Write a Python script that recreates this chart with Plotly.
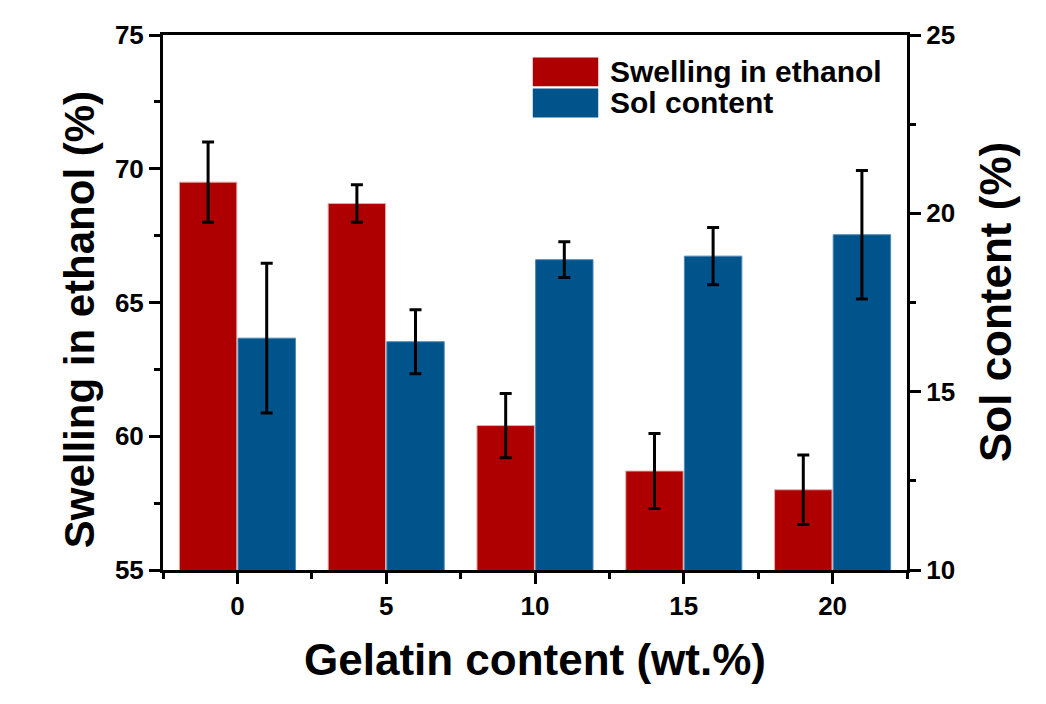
import plotly.graph_objects as go

# Gelatin content (wt.%)
gelatin = [0, 5, 10, 15, 20]

# Swelling in ethanol (%) with standard deviation
swelling = [69.5, 68.7, 60.4, 58.7, 58.0]
swelling_err = [1.5, 0.7, 1.2, 1.4, 1.3]

# Sol content (%) with standard deviation
sol = [16.5, 16.4, 18.7, 18.8, 19.4]
sol_err = [2.1, 0.9, 0.5, 0.8, 1.8]

RED = "#AF0000"
BLUE = "#00548C"
FONT = "Liberation Sans"
BAR_W = 1.93

err_style = dict(type="data", visible=True, color="black", thickness=3, width=6)

fig = go.Figure()
fig.add_trace(go.Bar(
    x=gelatin, y=swelling, name="Swelling in ethanol",
    width=BAR_W, offset=-1.95,
    marker=dict(color=RED, line=dict(color="#E4A9A9", width=1)),
    error_y=dict(array=swelling_err, **err_style),
    yaxis="y", showlegend=False,
))
fig.add_trace(go.Bar(
    x=gelatin, y=sol, name="Sol content",
    width=BAR_W, offset=0.02,
    marker=dict(color=BLUE, line=dict(color="#4F86B0", width=1)),
    error_y=dict(array=sol_err, **err_style),
    yaxis="y2", showlegend=False,
))

tick_font = dict(family=FONT, size=26, color="black", weight="bold")
axis_common = dict(
    showline=True, linecolor="black", linewidth=3,
    ticks="outside", ticklen=11, tickwidth=3, tickcolor="black",
    showgrid=False, zeroline=False, tickfont=tick_font,
)

fig.update_layout(
    width=1046, height=704,
    margin=dict(l=163, r=139, t=35, b=134),
    paper_bgcolor="white", plot_bgcolor="white",
    barmode="overlay",
    xaxis=dict(
        range=[-2.5, 22.5], tickmode="array", tickvals=gelatin,
        ticktext=[str(v) for v in gelatin], mirror=True,
        minor=dict(ticks="outside", dtick=2.5, tick0=0, ticklen=6,
                   tickwidth=3, tickcolor="black"),
        **axis_common,
    ),
    yaxis=dict(
        range=[55, 75], tick0=55, dtick=5,
        minor=dict(ticks="outside", dtick=2.5, tick0=55, ticklen=6,
                   tickwidth=3, tickcolor="black"),
        **axis_common,
    ),
    yaxis2=dict(
        range=[10, 25], tick0=10, dtick=5, overlaying="y", side="right",
        minor=dict(ticks="outside", dtick=2.5, tick0=10, ticklen=6,
                   tickwidth=3, tickcolor="black"),
        **axis_common,
    ),
)

# Axis titles
def title_font(size):
    return dict(family=FONT, size=size, color="black", weight="bold")

fig.add_annotation(text="Gelatin content (wt.%)", xref="paper", yref="paper",
                   x=0.5, y=-0.167, xanchor="center", yanchor="middle",
                   showarrow=False, font=title_font(44))
fig.add_annotation(text="Swelling in ethanol (%)", xref="paper", yref="paper",
                   x=-0.112, y=0.468, xanchor="center", yanchor="middle",
                   textangle=-90, showarrow=False, font=title_font(42))
fig.add_annotation(text="Sol content (%)", xref="paper", yref="paper",
                   x=1.119, y=0.5, xanchor="center", yanchor="middle",
                   textangle=-90, showarrow=False, font=title_font(44))

# Legend: colour swatches with labels
legend_items = [("Swelling in ethanol", RED), ("Sol content", BLUE)]
sw_x0, sw_x1 = 0.497, 0.585
sw_top, sw_h = 0.958, 0.058
for i, (label, color) in enumerate(legend_items):
    y1 = sw_top - i * sw_h
    y0 = y1 - sw_h + 0.004
    fig.add_shape(type="rect", xref="paper", yref="paper",
                  x0=sw_x0, x1=sw_x1, y0=y0, y1=y1,
                  fillcolor=color, line=dict(width=0))
    fig.add_annotation(text=label, xref="paper", yref="paper",
                       x=0.598, y=(y0 + y1) / 2, xanchor="left", yanchor="middle",
                       showarrow=False,
                       font=dict(family=FONT, size=30, color="black", weight="bold"))

fig.write_html("out.html")
